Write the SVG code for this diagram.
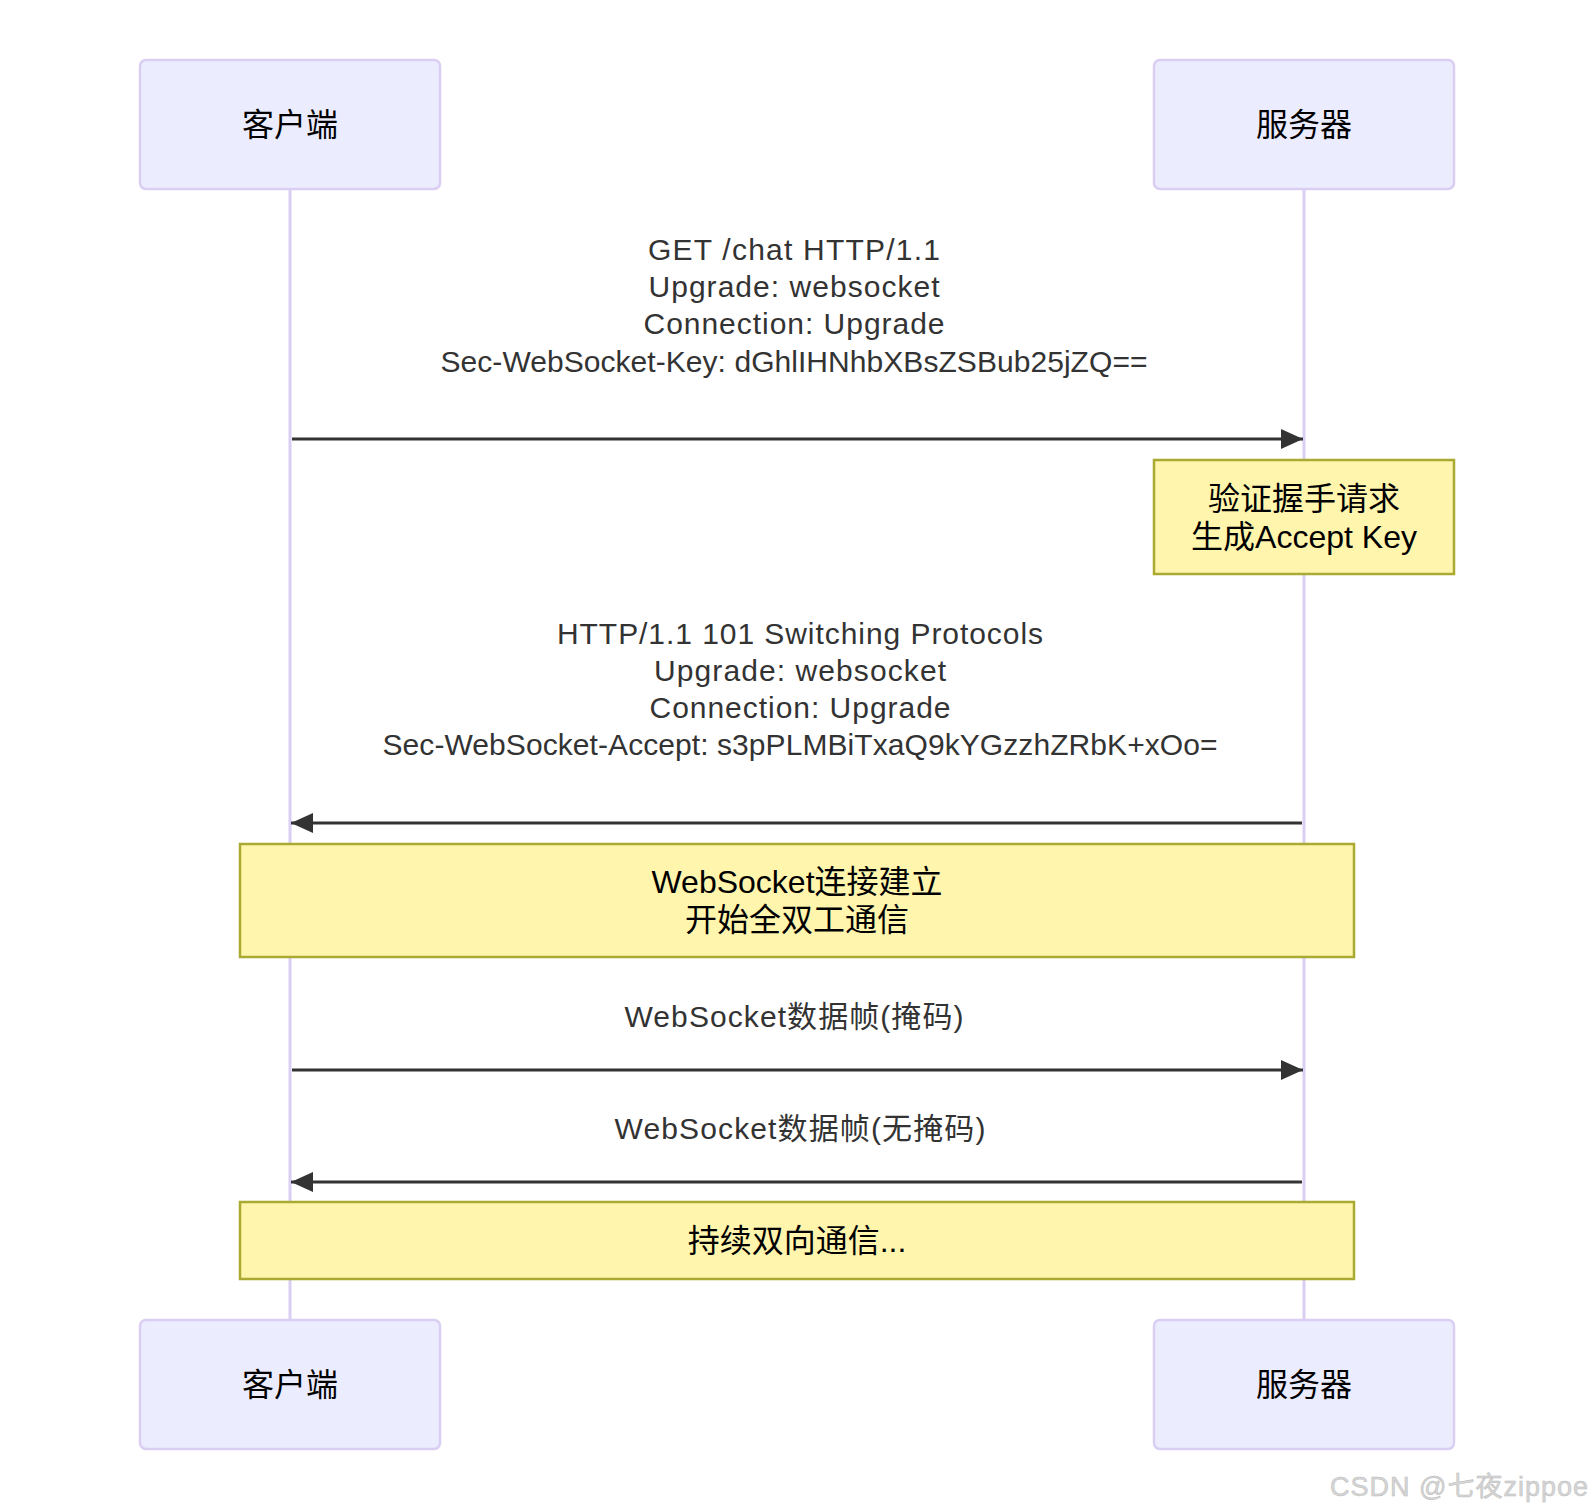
<svg xmlns="http://www.w3.org/2000/svg" width="1594" height="1512" viewBox="0 0 1594 1512">
<style>
.actor{fill:#ECECFF;stroke:#DACEF3;stroke-width:2.5}
.atext{font-family:"Liberation Sans","Noto Sans CJK SC",sans-serif;font-size:32px;fill:#000;text-anchor:middle}
.life{stroke:#DACEF3;stroke-width:3}
.msg{stroke:#333;stroke-width:3;fill:none}
.mtext{font-family:"Liberation Sans","Noto Sans CJK SC",sans-serif;font-size:30px;fill:#333;text-anchor:middle}
.note{fill:#FFF5AD;stroke:#AAAA33;stroke-width:2.5}
.ntext{font-family:"Liberation Sans","Noto Sans CJK SC",sans-serif;font-size:32px;fill:#000;text-anchor:middle}
.wm{font-family:"Liberation Sans","Noto Sans CJK SC",sans-serif;font-size:27px;fill:#d6d6d6;stroke:#bbb;stroke-width:0.5}
</style>
<defs>
<marker id="arrow" markerUnits="userSpaceOnUse" markerWidth="24" markerHeight="22" refX="22" refY="10" orient="auto">
<path d="M0,0 L22,10 L0,20 z" fill="#333"/>
</marker>
</defs>
<rect width="1594" height="1512" fill="#fff"/>
<g id="lifelines">
<line class="life" x1="290" y1="189" x2="290" y2="1320"/>
<line class="life" x1="1304" y1="189" x2="1304" y2="1320"/>
</g>
<g id="actor-client-top"><rect class="actor" x="140" y="60" width="300" height="129" rx="6"/><text class="atext" x="290" y="136">客户端</text></g>
<g id="actor-server-top"><rect class="actor" x="1154" y="60" width="300" height="129" rx="6"/><text class="atext" x="1304" y="136">服务器</text></g>
<g id="actor-client-bottom"><rect class="actor" x="140" y="1320" width="300" height="129" rx="6"/><text class="atext" x="290" y="1396">客户端</text></g>
<g id="actor-server-bottom"><rect class="actor" x="1154" y="1320" width="300" height="129" rx="6"/><text class="atext" x="1304" y="1396">服务器</text></g>
<g id="connectors">
<line class="msg" x1="292" y1="439" x2="1303" y2="439" marker-end="url(#arrow)"/>
<line class="msg" x1="1302" y1="823" x2="291" y2="823" marker-end="url(#arrow)"/>
<line class="msg" x1="292" y1="1070" x2="1303" y2="1070" marker-end="url(#arrow)"/>
<line class="msg" x1="1302" y1="1182" x2="291" y2="1182" marker-end="url(#arrow)"/>
</g>
<g id="msg1-label">
<text class="mtext" x="794" y="260" textLength="292">GET /chat HTTP/1.1</text>
<text class="mtext" x="794" y="297" textLength="291">Upgrade: websocket</text>
<text class="mtext" x="794" y="334" textLength="301">Connection: Upgrade</text>
<text class="mtext" x="794" y="372" textLength="707">Sec-WebSocket-Key: dGhlIHNhbXBsZSBub25jZQ==</text>
</g>
<g id="note-verify">
<rect class="note" x="1154" y="460" width="300" height="114"/>
<text class="ntext" x="1304" y="510">验证握手请求</text>
<text class="ntext" x="1304" y="548">生成Accept Key</text>
</g>
<g id="msg2-label">
<text class="mtext" x="800" y="644" textLength="486">HTTP/1.1 101 Switching Protocols</text>
<text class="mtext" x="800" y="681" textLength="292">Upgrade: websocket</text>
<text class="mtext" x="800" y="718" textLength="301">Connection: Upgrade</text>
<text class="mtext" x="800" y="755" textLength="835">Sec-WebSocket-Accept: s3pPLMBiTxaQ9kYGzzhZRbK+xOo=</text>
</g>
<g id="note-established">
<rect class="note" x="240" y="844" width="1114" height="113"/>
<text class="ntext" x="797" y="893">WebSocket连接建立</text>
<text class="ntext" x="797" y="931">开始全双工通信</text>
</g>
<g id="msg3-label"><text class="mtext" x="794" y="1027" textLength="339">WebSocket数据帧(掩码)</text></g>
<g id="msg4-label"><text class="mtext" x="800" y="1139" textLength="371">WebSocket数据帧(无掩码)</text></g>
<g id="note-continue">
<rect class="note" x="240" y="1202" width="1114" height="77"/>
<text class="ntext" x="797" y="1252">持续双向通信...</text>
</g>
<text class="wm" x="1330" y="1496" textLength="258">CSDN @七夜zippoe</text>
</svg>
